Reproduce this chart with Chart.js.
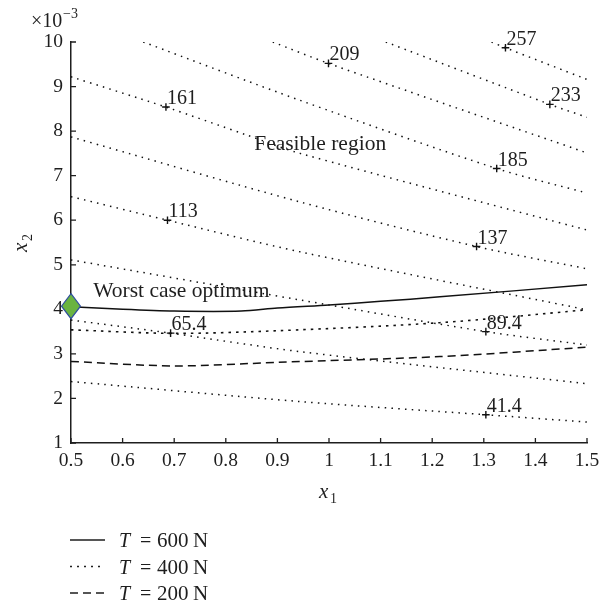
<!DOCTYPE html>
<html>
<head>
<meta charset="utf-8">
<script src="https://cdn.jsdelivr.net/npm/chart.js@4.4.1/dist/chart.umd.min.js"></script>
<style>
body{margin:0;background:#fff}
#caixa{width:600px;height:606px;position:relative}
</style>
</head>
<body>
<div id="caixa"><canvas id="grafico"></canvas></div>
<script>
const SERIF = "'Liberation Serif', 'DejaVu Serif', serif"
const INK = "#1e1e1e"

// eixos (x2 em unidades de 10^-3)
const xTicks = [0.5, 0.6, 0.7, 0.8, 0.9, 1, 1.1, 1.2, 1.3, 1.4, 1.5]
const xTickLabels = ["0.5", "0.6", "0.7", "0.8", "0.9", "1", "1.1", "1.2", "1.3", "1.4", "1.5"]
const yTicks = [1, 2, 3, 4, 5, 6, 7, 8, 9, 10]
const yTickLabels = ["1", "2", "3", "4", "5", "6", "7", "8", "9", "10"]

// curvas de nivel da funcao objetivo (pontilhadas)
const c41 = [[0.5, 2.38], [0.944, 1.93], [1.304, 1.634], [1.5, 1.47]]
const c65 = [[0.5, 3.76], [0.693, 3.465], [0.944, 3.05], [1.5, 2.33]]
const c89 = [[0.5, 5.11], [0.944, 4.21], [1.304, 3.50], [1.5, 3.20]]
const c113 = [[0.5, 6.53], [0.687, 6.0], [0.944, 5.29], [1.5, 3.99]]
const c137 = [[0.5, 7.87], [0.944, 6.41], [1.286, 5.41], [1.5, 4.91]]
const c161 = [[0.5, 9.22], [0.684, 8.54], [0.841, 7.91], [0.944, 7.5], [1.5, 5.78]]
const c185 = [[0.64, 10], [0.944, 8.69], [1.325, 7.16], [1.5, 6.61]]
const c209 = [[0.891, 10], [0.999, 9.52], [1.5, 7.51]]
const c233 = [[1.11, 10], [1.428, 8.6], [1.5, 8.31]]
const c257 = [[1.315, 10], [1.342, 9.87], [1.5, 9.16]]
const contornos = [c41, c65, c89, c113, c137, c161, c185, c209, c233, c257]

const niveis = ["41.4", "65.4", "89.4", "113", "137", "161", "185", "209", "233", "257"]
const marcaX = [1.304, 0.693, 1.304, 0.687, 1.286, 0.684, 1.325, 0.999, 1.428, 1.342]
const marcaY = [1.634, 3.465, 3.50, 6.0, 5.41, 8.54, 7.16, 9.52, 8.60, 9.87]

// restricoes para cada tracao T
const t600X = [0.5, 0.6, 0.7, 0.83, 0.9, 1.0, 1.1, 1.215, 1.5]
const t600Y = [4.06, 4.0, 3.96, 3.96, 4.03, 4.1, 4.18, 4.28, 4.55]
const t400X = [0.5, 0.7, 0.9, 1.215, 1.5]
const t400Y = [3.54, 3.46, 3.52, 3.70, 3.99]
const t200X = [0.5, 0.7, 0.9, 1.215, 1.5]
const t200Y = [2.83, 2.73, 2.81, 2.94, 3.15]

const otimo = [0.5, 4.07]

function pontos(xs, ys){
    return xs.map((x, i) => ({ x, y: ys[i] }))
}

const datasets = [
    {
        data: pontos(marcaX, marcaY),
        pointStyle: "cross",
        pointRadius: 3.8,
        borderWidth: 1.4,
        borderColor: "#111",
        showLine: false
    },
    {
        data: pontos(t600X, t600Y),
        showLine: true,
        borderColor: "#111",
        borderWidth: 1.5,
        pointRadius: 0,
        tension: 0.3
    },
    {
        data: pontos(t400X, t400Y),
        showLine: true,
        borderColor: "#111",
        borderWidth: 1.6,
        borderDash: [2.5, 5],
        pointRadius: 0,
        tension: 0.3
    },
    {
        data: pontos(t200X, t200Y),
        showLine: true,
        borderColor: "#111",
        borderWidth: 1.5,
        borderDash: [8, 5],
        pointRadius: 0,
        tension: 0.3
    }
]

contornos.forEach(c => {
    datasets.push({
        data: c.map(p => ({ x: p[0], y: p[1] })),
        showLine: true,
        borderColor: "#111",
        borderWidth: 1.5,
        borderDash: [1.5, 5.2],
        pointRadius: 0,
        tension: 0.3
    })
})

const textos = {
    id: "textos",
    afterDatasetsDraw(chart){
        const { ctx, chartArea: a } = chart
        const sx = chart.scales.x
        const sy = chart.scales.y
        ctx.save()

        // ticks para dentro
        ctx.strokeStyle = INK
        ctx.lineWidth = 1.3
        ctx.beginPath()
        sx.ticks.forEach(t => {
            const px = sx.getPixelForValue(t.value)
            ctx.moveTo(px, a.bottom)
            ctx.lineTo(px, a.bottom - 5)
        })
        sy.ticks.forEach(t => {
            const py = sy.getPixelForValue(t.value)
            ctx.moveTo(a.left, py)
            ctx.lineTo(a.left + 5, py)
        })
        ctx.stroke()

        // otimo do pior caso (losango)
        const cx = sx.getPixelForValue(otimo[0])
        const cy = sy.getPixelForValue(otimo[1])
        ctx.beginPath()
        ctx.moveTo(cx, cy - 12.5)
        ctx.lineTo(cx + 9.5, cy)
        ctx.lineTo(cx, cy + 12.5)
        ctx.lineTo(cx - 9.5, cy)
        ctx.closePath()
        ctx.fillStyle = "#6ab440"
        ctx.fill()
        ctx.strokeStyle = "#2f4f9e"
        ctx.lineWidth = 1.2
        ctx.stroke()

        ctx.fillStyle = INK
        ctx.textBaseline = "alphabetic"
        ctx.textAlign = "left"

        // rotulos das curvas de nivel
        ctx.font = `20px ${SERIF}`
        const meta = chart.getDatasetMeta(0)
        meta.data.forEach((el, i) => {
            ctx.fillText(niveis[i], el.x + 1, el.y - 3)
        })

        ctx.font = `21.5px ${SERIF}`
        ctx.fillText("Worst case optimum", sx.getPixelForValue(0.543), sy.getPixelForValue(4.28))
        ctx.fillText("Feasible region", sx.getPixelForValue(0.855), sy.getPixelForValue(7.57))

        // fator de escala
        ctx.font = `20px ${SERIF}`
        ctx.fillText("\u00d710", 31, 27)
        ctx.font = `14px ${SERIF}`
        ctx.fillText("\u22123", 63, 18)

        // titulos dos eixos
        ctx.font = `italic 21px ${SERIF}`
        ctx.fillText("x", 319, 498)
        ctx.font = `14px ${SERIF}`
        ctx.fillText("1", 330, 503)

        ctx.save()
        ctx.translate(27, 252)
        ctx.rotate(-Math.PI / 2)
        ctx.font = `italic 21px ${SERIF}`
        ctx.fillText("x", 0, 0)
        ctx.font = `14px ${SERIF}`
        ctx.fillText("2", 11, 5)
        ctx.restore()

        // legenda
        const legenda = [
            { dash: [], valor: "600" },
            { dash: [2, 5], valor: "400" },
            { dash: [8, 5], valor: "200" }
        ]
        legenda.forEach((l, i) => {
            const y = 540 + i * 26.5
            ctx.beginPath()
            ctx.setLineDash(l.dash)
            ctx.lineWidth = 1.5
            ctx.strokeStyle = INK
            ctx.moveTo(70, y)
            ctx.lineTo(105, y)
            ctx.stroke()
            ctx.setLineDash([])
            ctx.font = `italic 20px ${SERIF}`
            ctx.fillText("T", 119, y + 7)
            ctx.font = `20px ${SERIF}`
            ctx.fillText("=", 140, y + 7)
            ctx.font = `21px ${SERIF}`
            ctx.fillText(l.valor, 157, y + 7)
            ctx.fillText("N", 193, y + 7)
        })

        ctx.restore()
    }
}

new Chart(document.getElementById("grafico"), {
    type: "scatter",
    data: { datasets },
    options: {
        responsive: true,
        maintainAspectRatio: false,
        animation: false,
        layout: { padding: { top: 42, right: 13, left: 0, bottom: 0 } },
        plugins: { legend: { display: false }, tooltip: { enabled: false } },
        scales: {
            x: {
                type: "linear",
                min: 0.5,
                max: 1.5,
                afterBuildTicks: s => { s.ticks = xTicks.map(v => ({ value: v })) },
                afterFit: s => {
                    s.height = 163
                    s.paddingLeft = 0
                    s.paddingRight = 0
                },
                grid: { display: false, drawTicks: false },
                border: { display: true, color: INK, width: 1.5 },
                ticks: {
                    padding: 6,
                    color: INK,
                    font: { family: SERIF, size: 19.5 },
                    maxRotation: 0,
                    callback: (v, i) => xTickLabels[i]
                }
            },
            y: {
                type: "linear",
                min: 1,
                max: 10,
                afterBuildTicks: s => { s.ticks = yTicks.map(v => ({ value: v })) },
                afterFit: s => {
                    s.width = 71
                    s.paddingTop = 0
                    s.paddingBottom = 0
                },
                grid: { display: false, drawTicks: false },
                border: { display: true, color: INK, width: 1.5 },
                ticks: {
                    padding: 8,
                    color: INK,
                    font: { family: SERIF, size: 19.5 },
                    callback: (v, i) => yTickLabels[i]
                }
            }
        }
    },
    plugins: [textos]
})
</script>
</body>
</html>
